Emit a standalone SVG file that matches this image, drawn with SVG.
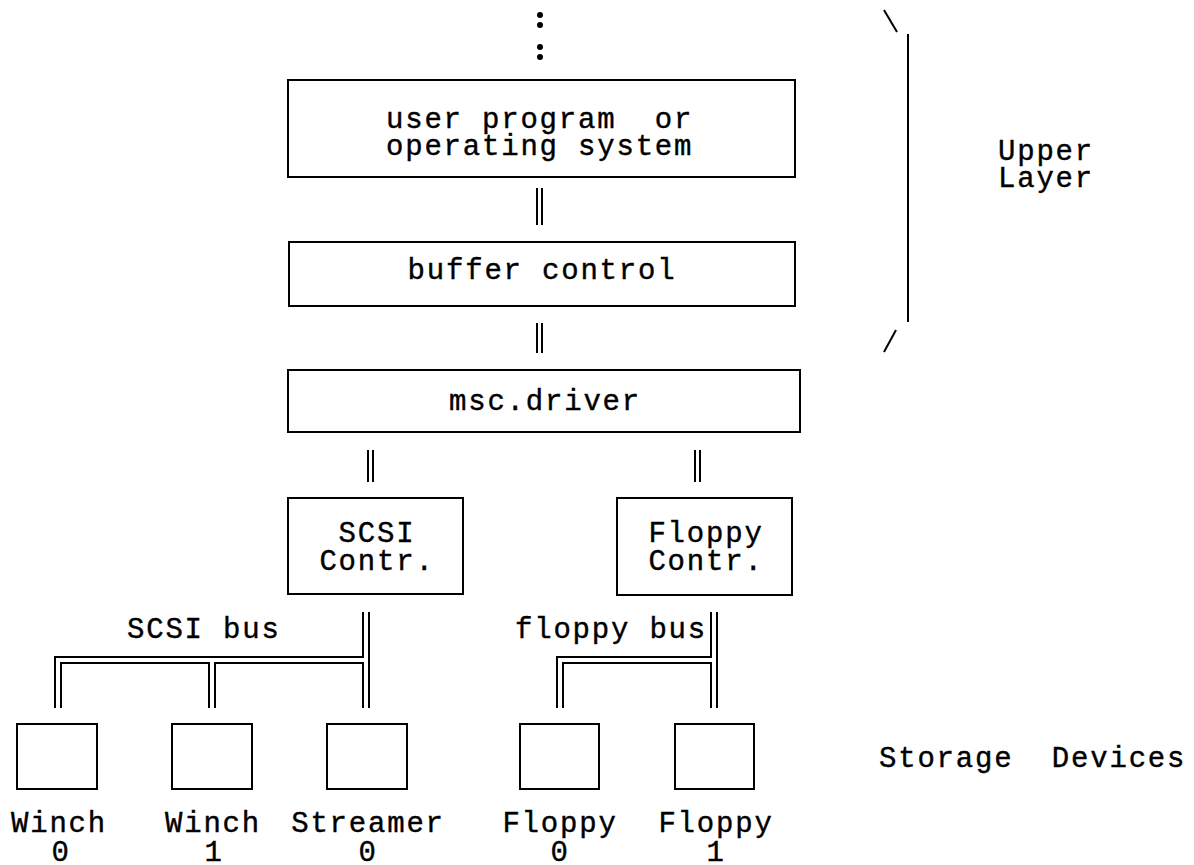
<svg xmlns="http://www.w3.org/2000/svg" width="1194" height="865" viewBox="0 0 1194 865">
<style>
.box{fill:#fff;stroke:#000;stroke-width:2}
.ln{fill:none;stroke:#000;stroke-width:2}
.t{font-family:"Liberation Mono","Courier New",monospace;font-size:29px;letter-spacing:1.8px;fill:#000;stroke:#000;stroke-width:0.4;text-anchor:middle}
.ts{font-family:"Liberation Mono","Courier New",monospace;font-size:29px;letter-spacing:1.8px;fill:#000;stroke:#000;stroke-width:0.4;white-space:pre}
</style>
<rect width="1194" height="865" fill="#fff"/>
<g id="dots">
<circle cx="540" cy="15" r="3"/><circle cx="540" cy="25" r="3"/>
<circle cx="540" cy="47" r="3"/><circle cx="540" cy="57" r="3"/>
</g>
<g id="user">
<rect class="box" x="288" y="80" width="507" height="97"/>
<text class="ts" x="386" y="128">user program  or</text>
<text class="ts" x="386" y="155">operating system</text>
</g>
<g id="buffer">
<rect class="box" x="289" y="242" width="506" height="64"/>
<text class="t" x="542" y="279">buffer control</text>
</g>
<g id="msc">
<rect class="box" x="288" y="370" width="512" height="62"/>
<text class="t" x="545" y="410">msc.driver</text>
</g>
<g id="scsi">
<rect class="box" x="288" y="498" width="175" height="96"/>
<text class="t" x="377" y="542">SCSI</text>
<text class="t" x="377" y="570">Contr.</text>
</g>
<g id="floppyc">
<rect class="box" x="617" y="498" width="175" height="97"/>
<text class="t" x="706" y="542">Floppy</text>
<text class="t" x="706" y="570">Contr.</text>
</g>
<g id="winch0">
<rect class="box" x="17" y="724" width="80" height="65"/>
<text class="t" x="59" y="832">Winch</text>
<text class="t" x="61" y="861">0</text>
</g>
<g id="winch1">
<rect class="box" x="172" y="724" width="80" height="65"/>
<text class="t" x="213" y="832">Winch</text>
<text class="t" x="214" y="861">1</text>
</g>
<g id="streamer">
<rect class="box" x="327" y="724" width="80" height="65"/>
<text class="t" x="368" y="832">Streamer</text>
<text class="t" x="368" y="861">0</text>
</g>
<g id="floppy0">
<rect class="box" x="520" y="724" width="79" height="65"/>
<text class="t" x="560" y="832">Floppy</text>
<text class="t" x="560" y="861">0</text>
</g>
<g id="floppy1">
<rect class="box" x="675" y="724" width="79" height="65"/>
<text class="t" x="716" y="832">Floppy</text>
<text class="t" x="716" y="861">1</text>
</g>
<g id="labels">
<text class="ts" x="879" y="767">Storage  Devices</text>
<text class="ts" x="998" y="160">Upper</text>
<text class="ts" x="998" y="187">Layer</text>
<text class="ts" x="127" y="638">SCSI bus</text>
<text class="ts" x="515" y="638">floppy bus</text>
</g>
<g id="bracket">
<line class="ln" x1="884" y1="10" x2="897" y2="32"/>
<line class="ln" x1="908" y1="34" x2="908" y2="322"/>
<line class="ln" x1="896" y1="330" x2="884" y2="352"/>
</g>
<g id="connectors">
<path class="ln" d="M537 188V225M542 188V225"/>
<path class="ln" d="M537 323V353M542 323V353"/>
<path class="ln" d="M368 450V482M373 450V482"/>
<path class="ln" d="M695 450V482M700 450V482"/>
<path class="ln" d="M363 612V657H55V708M369 612V708M61 708V663H209V708M215 708V663H363V708"/>
<path class="ln" d="M711 612V657H557V708M717 612V708M563 708V663H711V708"/>
</g>
</svg>
